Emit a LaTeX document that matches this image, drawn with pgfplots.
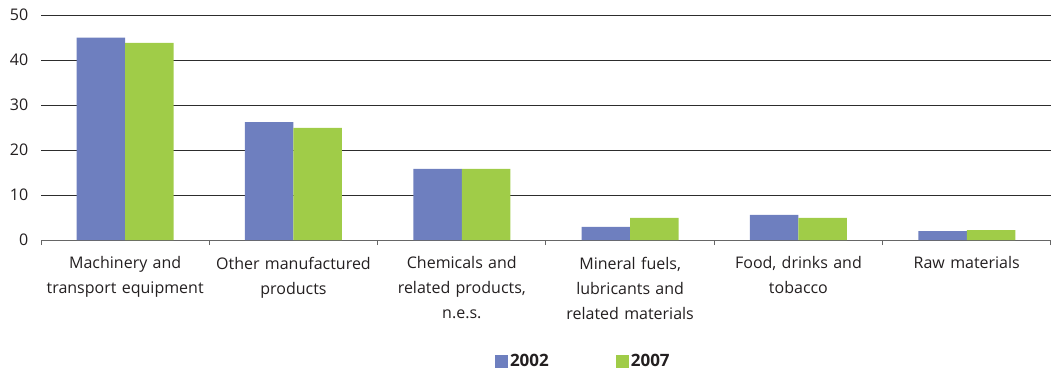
\documentclass[border=0pt]{standalone}
\usepackage{pgfplots}
\pgfplotsset{compat=1.18}
\usepackage{fontspec}
\setmainfont{Open Sans}
\definecolor{cblue}{RGB}{110,127,191}
\definecolor{cgreen}{RGB}{160,204,72}
\definecolor{ctext}{RGB}{35,31,32}
\definecolor{cgrid}{RGB}{45,45,45}
\begin{document}
\begin{tikzpicture}
\path[use as bounding box] (-41pt,-132pt) rectangle (1010pt,240pt);
\begin{axis}[
  scale only axis,
  width=1010pt, height=225pt,
  ybar=0pt, bar width=48.5pt,
  xmin=-0.5, xmax=5.5,
  ymin=0, ymax=50,
  ytick={0,10,20,30,40,50},
  xtick={0,1,2,3,4,5},
  xticklabels={{Machinery and\\transport equipment},{Other manufactured\\products},{Chemicals and\\related products,\\n.e.s.},{Mineral fuels,\\lubricants and\\related materials},{Food, drinks and\\tobacco},{Raw materials}},
  minor xtick={-0.5,0.5,1.5,2.5,3.5,4.5,5.5},
  axis lines*=left,
  y axis line style={draw=none},
  x axis line style={draw=black!60, line width=1pt},
  ytick style={draw=none},
  major x tick style={draw=none},
  minor x tick style={draw=black!60, line width=1pt},
  minor tick length=5pt,
  tick align=outside,
  ymajorgrids,
  major grid style={draw=cgrid, line width=0.9pt},
  /pgf/number format/assume math mode=true,
  tick label style={font=\fontsize{16}{25}\selectfont, text=ctext},
  xticklabel style={align=center, text width=170pt, yshift=-9pt},
  yticklabel style={xshift=-5pt},
  legend style={at={(0.537,-0.538)}, anchor=center, draw=none, legend columns=2,
    font=\fontsize{17}{18}\selectfont\bfseries, text=ctext,
    /tikz/every even column/.append style={column sep=65pt}},
  legend image code/.code={\fill[#1] (0pt,-6.5pt) rectangle (13pt,6.5pt);},
]
\addplot[fill=cblue, draw=none] coordinates {(0,45) (1,26.2) (2,15.8) (3,2.9) (4,5.6) (5,2.0)};
\addplot[fill=cgreen, draw=none] coordinates {(0,43.8) (1,24.9) (2,15.8) (3,4.9) (4,4.9) (5,2.2)};
\legend{2002,2007}
\end{axis}
\end{tikzpicture}
\end{document}
